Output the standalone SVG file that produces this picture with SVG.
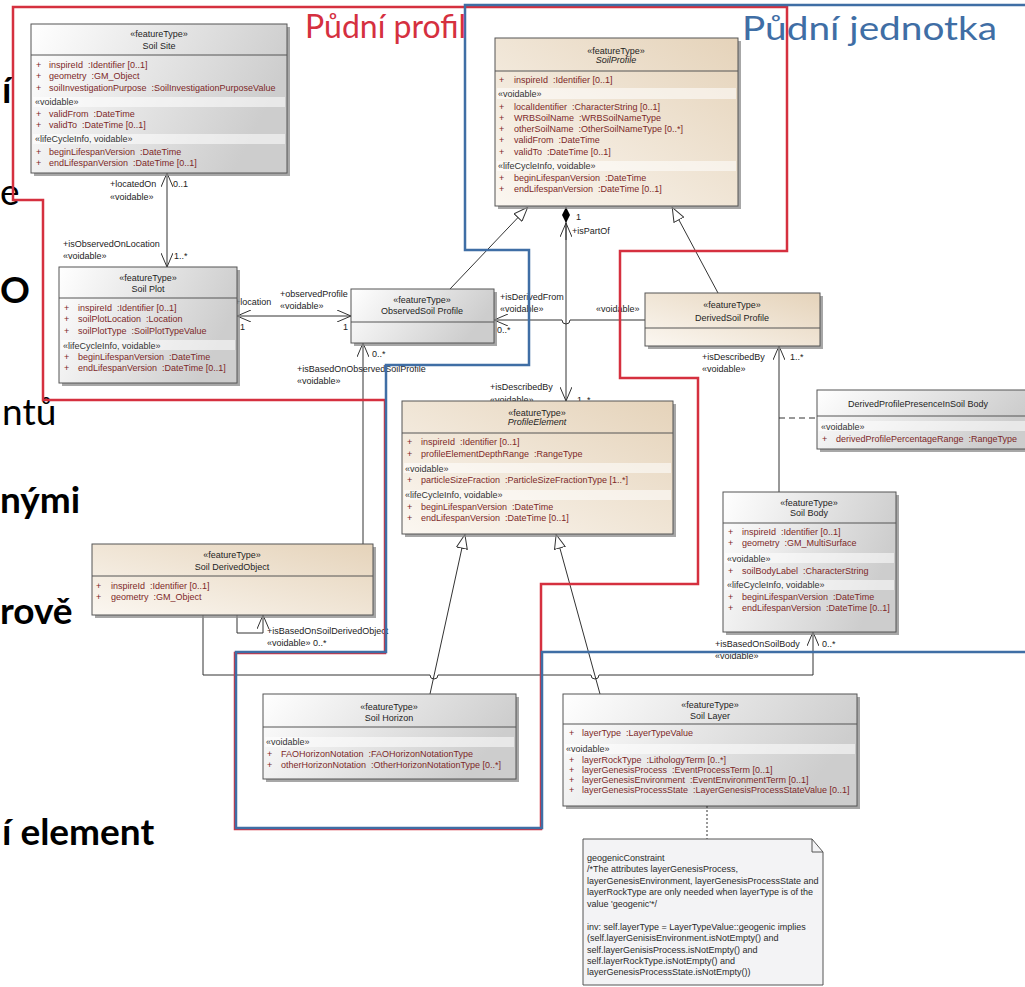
<svg xmlns="http://www.w3.org/2000/svg" width="1025" height="987" viewBox="0 0 1025 987">
<style>
text{font-family:"Liberation Sans",Arial,sans-serif;font-size:9px}
.h{fill:#1e1e1e;text-anchor:middle}
.i{font-style:italic}
.a{fill:#7d2828}
.s{fill:#333}
.l{fill:#222}
.box{stroke:#555;stroke-width:1}
.sh{fill:#8a8a8a;opacity:.75}
.sep{stroke:#555;stroke-width:1}
.band{fill:#fff;opacity:.55}
.c{stroke:#333;stroke-width:1;fill:none}
.big{font-family:Lato,"Open Sans",sans-serif;font-size:37px;font-weight:bold;fill:#000}
.reg{font-family:Lato,"Open Sans",sans-serif;font-size:37px;fill:#000}
.zone{font-family:Lato,"Open Sans",sans-serif;font-size:32px}
.note text{fill:#2a2a2a}
</style>
<defs>
<linearGradient id="gGray" x1="0" y1="0" x2="1" y2="0.3"><stop offset="0" stop-color="#ffffff"/><stop offset="1" stop-color="#cdcdcd"/></linearGradient>
<linearGradient id="gBeige" x1="0" y1="1" x2="1" y2="0"><stop offset="0" stop-color="#fbf7f1"/><stop offset="1" stop-color="#e5d3ba"/></linearGradient>
<marker id="open" viewBox="0 0 14 12" refX="14" refY="6" markerWidth="14" markerHeight="12" markerUnits="userSpaceOnUse" orient="auto-start-reverse"><path d="M0,0 L14,6 L0,12" fill="none" stroke="#333" stroke-width="1"/></marker>
<marker id="tri" viewBox="0 0 15 12" refX="15" refY="6" markerWidth="15" markerHeight="12" markerUnits="userSpaceOnUse" orient="auto"><path d="M0.5,0.5 L14.5,6 L0.5,11.5 Z" fill="#fff" stroke="#333" stroke-width="1"/></marker>
<marker id="dia" viewBox="0 0 16 8" refX="0" refY="4" markerWidth="16" markerHeight="8" markerUnits="userSpaceOnUse" orient="auto"><path d="M0,4 L8,0 L16,4 L8,8 Z" fill="#000"/></marker>
</defs>
<rect x="0" y="0" width="1025" height="987" fill="#fff"/>

<g id="slide-text">
<text class="big" x="2" y="103">í</text>
<text class="reg" x="0" y="205">e</text>
<text class="big" x="0" y="303">O</text>
<text class="reg" x="2" y="425">ntů</text>
<text class="big" x="0" y="513">nými</text>
<text class="big" x="0" y="624">rově</text>
<text class="big" x="2" y="845">í element</text>
</g>

<g id="connectors">
<path class="c" d="M167,173 L167,267" marker-start="url(#open)" marker-end="url(#open)"/>
<path class="c" d="M237,316 L351,316" marker-start="url(#open)" marker-end="url(#open)"/>
<path class="c" d="M363,544 L363,343" marker-end="url(#open)"/>
<path class="c" d="M450,289 L528,207" marker-end="url(#tri)"/>
<path class="c" d="M718,293 L672,207" marker-end="url(#tri)"/>
<path class="c" d="M566,207 L566,401" marker-start="url(#dia)" marker-end="url(#open)"/>
<path class="c" d="M566,240 L566,223" marker-end="url(#open)"/>
<path class="c" d="M645,320 L570,320 A4,4 0 0 1 562,320 L494,320" marker-end="url(#open)"/>
<path class="c" d="M779,492 L779,346" marker-end="url(#open)"/>
<path class="c" d="M779,418 L817,418" stroke-dasharray="6,4"/>
<path class="c" d="M430,694 L465,534" marker-end="url(#tri)"/>
<path class="c" d="M600,694 L556,534" marker-end="url(#tri)"/>
<path class="c" d="M237,615 L237,633 L263,633 L263,615" marker-end="url(#open)"/>
<path class="c" d="M203,615 L203,675 L430,675 A4,4 0 0 0 438,675 L591,675 A4,4 0 0 0 599,675 L813,675 L813,632" marker-end="url(#open)"/>
<text class="l" x="110" y="187">+locatedOn</text>
<text class="l" x="110" y="200">«voidable»</text>
<text class="l" x="173" y="187">0..1</text>
<text class="l" x="63" y="247">+isObservedOnLocation</text>
<text class="l" x="63" y="259">«voidable»</text>
<text class="l" x="174" y="259">1..*</text>
<text class="l" x="235" y="305">+location</text>
<text class="l" x="240" y="330">1</text>
<text class="l" x="280" y="297">+observedProfile</text>
<text class="l" x="280" y="309">«voidable»</text>
<text class="l" x="343" y="330">1</text>
<text class="l" x="372" y="357">0..*</text>
<text class="l" x="297" y="372">+isBasedOnObservedSoilProfile</text>
<text class="l" x="297" y="384">«voidable»</text>
<text class="l" x="500" y="300">+isDerivedFrom</text>
<text class="l" x="500" y="312">«voidable»</text>
<text class="l" x="497" y="333">0..*</text>
<text class="l" x="596" y="312">«voidable»</text>
<text class="l" x="576" y="220">1</text>
<text class="l" x="572" y="234">+isPartOf</text>
<text class="l" x="490" y="390">+isDescribedBy</text>
<text class="l" x="490" y="403">«voidable»</text>
<text class="l" x="577" y="403">1..*</text>
<text class="l" x="702" y="360">+isDescribedBy</text>
<text class="l" x="702" y="372">«voidable»</text>
<text class="l" x="790" y="360">1..*</text>
<text class="l" x="267" y="634">+isBasedOnSoilDerivedObject</text>
<text class="l" x="267" y="646">«voidable» 0..*</text>
<text class="l" x="715" y="647">+isBasedOnSoilBody</text>
<text class="l" x="822" y="647">0..*</text>
<text class="l" x="715" y="659">«voidable»</text>
</g>

<g id="SoilSite">
<rect class="sh" x="34" y="27" width="256" height="149"/>
<rect class="box" x="31" y="24" width="256" height="149" fill="url(#gGray)"/>
<line class="sep" x1="31" y1="55" x2="287" y2="55"/>
<rect class="band" x="33" y="97" width="252" height="10"/>
<rect class="band" x="33" y="134" width="252" height="10"/>
<text class="h" x="159" y="37">«featureType»</text>
<text class="h" x="159" y="49">Soil Site</text>
<text class="a" x="36" y="68">+</text><text class="a" x="49" y="68">inspireId &#160;:Identifier [0..1]</text>
<text class="a" x="36" y="79">+</text><text class="a" x="49" y="79">geometry &#160;:GM_Object</text>
<text class="a" x="36" y="91">+</text><text class="a" x="49" y="91">soilInvestigationPurpose &#160;:SoilInvestigationPurposeValue</text>
<text class="s" x="35" y="105">«voidable»</text>
<text class="a" x="36" y="117">+</text><text class="a" x="49" y="117">validFrom &#160;:DateTime</text>
<text class="a" x="36" y="128">+</text><text class="a" x="49" y="128">validTo &#160;:DateTime [0..1]</text>
<text class="s" x="35" y="142">«lifeCycleInfo, voidable»</text>
<text class="a" x="36" y="155">+</text><text class="a" x="49" y="155">beginLifespanVersion &#160;:DateTime</text>
<text class="a" x="36" y="166">+</text><text class="a" x="49" y="166">endLifespanVersion &#160;:DateTime [0..1]</text>
</g>

<g id="SoilProfile">
<rect class="sh" x="498" y="41" width="243" height="168"/>
<rect class="box" x="495" y="38" width="243" height="168" fill="url(#gBeige)"/>
<line class="sep" x1="495" y1="71" x2="738" y2="71"/>
<rect class="band" x="497" y="88" width="239" height="11"/>
<rect class="band" x="497" y="161" width="239" height="10"/>
<text class="h" x="616" y="54">«featureType»</text>
<text class="h i" x="616" y="63">SoilProfile</text>
<text class="a" x="499" y="83">+</text><text class="a" x="514" y="83">inspireId &#160;:Identifier [0..1]</text>
<text class="s" x="498" y="97">«voidable»</text>
<text class="a" x="499" y="110">+</text><text class="a" x="514" y="110">localIdentifier &#160;:CharacterString [0..1]</text>
<text class="a" x="499" y="121">+</text><text class="a" x="514" y="121">WRBSoilName &#160;:WRBSoilNameType</text>
<text class="a" x="499" y="132">+</text><text class="a" x="514" y="132">otherSoilName &#160;:OtherSoilNameType [0..*]</text>
<text class="a" x="499" y="143">+</text><text class="a" x="514" y="143">validFrom &#160;:DateTime</text>
<text class="a" x="499" y="155">+</text><text class="a" x="514" y="155">validTo &#160;:DateTime [0..1]</text>
<text class="s" x="498" y="169">«lifeCycleInfo, voidable»</text>
<text class="a" x="499" y="181">+</text><text class="a" x="514" y="181">beginLifespanVersion &#160;:DateTime</text>
<text class="a" x="499" y="192">+</text><text class="a" x="514" y="192">endLifespanVersion &#160;:DateTime [0..1]</text>
</g>

<g id="SoilPlot">
<rect class="sh" x="62" y="270" width="178" height="116"/>
<rect class="box" x="59" y="267" width="178" height="116" fill="url(#gGray)"/>
<line class="sep" x1="59" y1="298" x2="237" y2="298"/>
<rect class="band" x="61" y="340" width="174" height="10"/>
<text class="h" x="148" y="281">«featureType»</text>
<text class="h" x="148" y="292">Soil Plot</text>
<text class="a" x="64" y="311">+</text><text class="a" x="78" y="311">inspireId &#160;:Identifier [0..1]</text>
<text class="a" x="64" y="322">+</text><text class="a" x="78" y="322">soilPlotLocation &#160;:Location</text>
<text class="a" x="64" y="334">+</text><text class="a" x="78" y="334">soilPlotType &#160;:SoilPlotTypeValue</text>
<text class="s" x="63" y="349">«lifeCycleInfo, voidable»</text>
<text class="a" x="64" y="360">+</text><text class="a" x="78" y="360">beginLifespanVersion &#160;:DateTime</text>
<text class="a" x="64" y="371">+</text><text class="a" x="78" y="371">endLifespanVersion &#160;:DateTime [0..1]</text>
</g>

<g id="ObservedSoilProfile">
<rect class="sh" x="354" y="292" width="143" height="54"/>
<rect class="box" x="351" y="289" width="143" height="54" fill="url(#gGray)"/>
<line class="sep" x1="351" y1="322" x2="494" y2="322"/>
<text class="h" x="422" y="303">«featureType»</text>
<text class="h" x="422" y="314">ObservedSoil Profile</text>
</g>

<g id="DerivedSoilProfile">
<rect class="sh" x="648" y="296" width="175" height="53"/>
<rect class="box" x="645" y="293" width="175" height="53" fill="url(#gBeige)"/>
<line class="sep" x1="645" y1="328" x2="820" y2="328"/>
<text class="h" x="732" y="308">«featureType»</text>
<text class="h" x="732" y="321">DerivedSoil Profile</text>
</g>

<g id="DerivedProfilePresenceInSoilBody">
<rect class="sh" x="820" y="393" width="210" height="59"/>
<rect class="box" x="817" y="390" width="210" height="59" fill="url(#gGray)"/>
<line class="sep" x1="817" y1="416" x2="1027" y2="416"/>
<rect class="band" x="819" y="421" width="206" height="10"/>
<text class="h" x="918" y="407">DerivedProfilePresenceInSoil Body</text>
<text class="s" x="821" y="430">«voidable»</text>
<text class="a" x="822" y="442">+</text><text class="a" x="836" y="442">derivedProfilePercentageRange &#160;:RangeType</text>
</g>

<g id="ProfileElement">
<rect class="sh" x="405" y="404" width="271" height="133"/>
<rect class="box" x="402" y="401" width="271" height="133" fill="url(#gBeige)"/>
<line class="sep" x1="402" y1="433" x2="673" y2="433"/>
<rect class="band" x="404" y="463" width="267" height="10"/>
<rect class="band" x="404" y="490" width="267" height="10"/>
<text class="h" x="537" y="416">«featureType»</text>
<text class="h i" x="537" y="425">ProfileElement</text>
<text class="a" x="407" y="445">+</text><text class="a" x="421" y="445">inspireId &#160;:Identifier [0..1]</text>
<text class="a" x="407" y="457">+</text><text class="a" x="421" y="457">profileElementDepthRange &#160;:RangeType</text>
<text class="s" x="405" y="472">«voidable»</text>
<text class="a" x="407" y="483">+</text><text class="a" x="421" y="483">particleSizeFraction &#160;:ParticleSizeFractionType [1..*]</text>
<text class="s" x="405" y="498">«lifeCycleInfo, voidable»</text>
<text class="a" x="407" y="510">+</text><text class="a" x="421" y="510">beginLifespanVersion &#160;:DateTime</text>
<text class="a" x="407" y="521">+</text><text class="a" x="421" y="521">endLifespanVersion &#160;:DateTime [0..1]</text>
</g>

<g id="SoilDerivedObject">
<rect class="sh" x="95" y="547" width="281" height="71"/>
<rect class="box" x="92" y="544" width="281" height="71" fill="url(#gBeige)"/>
<line class="sep" x1="92" y1="576" x2="373" y2="576"/>
<text class="h" x="232" y="558">«featureType»</text>
<text class="h" x="232" y="570">Soil DerivedObject</text>
<text class="a" x="96" y="589">+</text><text class="a" x="111" y="589">inspireId &#160;:Identifier [0..1]</text>
<text class="a" x="96" y="600">+</text><text class="a" x="111" y="600">geometry &#160;:GM_Object</text>
</g>

<g id="SoilBody">
<rect class="sh" x="726" y="495" width="173" height="140"/>
<rect class="box" x="723" y="492" width="173" height="140" fill="url(#gGray)"/>
<line class="sep" x1="723" y1="523" x2="896" y2="523"/>
<rect class="band" x="725" y="553" width="169" height="10"/>
<rect class="band" x="725" y="580" width="169" height="10"/>
<text class="h" x="809" y="506">«featureType»</text>
<text class="h" x="809" y="516">Soil Body</text>
<text class="a" x="728" y="535">+</text><text class="a" x="742" y="535">inspireId &#160;:Identifier [0..1]</text>
<text class="a" x="728" y="546">+</text><text class="a" x="742" y="546">geometry &#160;:GM_MultiSurface</text>
<text class="s" x="727" y="562">«voidable»</text>
<text class="a" x="728" y="574">+</text><text class="a" x="742" y="574">soilBodyLabel &#160;:CharacterString</text>
<text class="s" x="727" y="588">«lifeCycleInfo, voidable»</text>
<text class="a" x="728" y="600">+</text><text class="a" x="742" y="600">beginLifespanVersion &#160;:DateTime</text>
<text class="a" x="728" y="611">+</text><text class="a" x="742" y="611">endLifespanVersion &#160;:DateTime [0..1]</text>
</g>

<g id="SoilHorizon">
<rect class="sh" x="266" y="697" width="253" height="85"/>
<rect class="box" x="263" y="694" width="253" height="85" fill="url(#gGray)"/>
<line class="sep" x1="263" y1="727" x2="516" y2="727"/>
<rect class="band" x="265" y="737" width="249" height="10"/>
<text class="h" x="389" y="710">«featureType»</text>
<text class="h" x="389" y="721">Soil Horizon</text>
<text class="s" x="266" y="745">«voidable»</text>
<text class="a" x="267" y="757">+</text><text class="a" x="281" y="757">FAOHorizonNotation &#160;:FAOHorizonNotationType</text>
<text class="a" x="267" y="768">+</text><text class="a" x="281" y="768">otherHorizonNotation &#160;:OtherHorizonNotationType [0..*]</text>
</g>

<g id="SoilLayer">
<rect class="sh" x="566" y="697" width="294" height="112"/>
<rect class="box" x="563" y="694" width="294" height="112" fill="url(#gGray)"/>
<line class="sep" x1="563" y1="724" x2="857" y2="724"/>
<rect class="band" x="565" y="744" width="290" height="10"/>
<text class="h" x="710" y="708">«featureType»</text>
<text class="h" x="710" y="719">Soil Layer</text>
<text class="a" x="569" y="736">+</text><text class="a" x="582" y="736">layerType &#160;:LayerTypeValue</text>
<text class="s" x="566" y="752">«voidable»</text>
<text class="a" x="569" y="763">+</text><text class="a" x="582" y="763">layerRockType &#160;:LithologyTerm [0..*]</text>
<text class="a" x="569" y="773">+</text><text class="a" x="582" y="773">layerGenesisProcess &#160;:EventProcessTerm [0..1]</text>
<text class="a" x="569" y="783">+</text><text class="a" x="582" y="783">layerGenesisEnvironment &#160;:EventEnvironmentTerm [0..1]</text>
<text class="a" x="569" y="793">+</text><text class="a" x="582" y="793">layerGenesisProcessState &#160;:LayerGenesisProcessStateValue [0..1]</text>
</g>

<g id="geogenicConstraint" class="note">
<path class="c" d="M707,806 L707,839" stroke-dasharray="2,2"/>
<path d="M583,839 L812,839 L823,852 L823,985 L583,985 Z" fill="#f3f3f5" stroke="#555" stroke-width="1"/>
<path d="M812,839 L812,852 L823,852" fill="none" stroke="#555" stroke-width="1"/>
<text x="587" y="861">geogenicConstraint</text>
<text x="587" y="872">/*The attributes layerGenesisProcess,</text>
<text x="587" y="884">layerGenesisEnvironment, layerGenesisProcessState and</text>
<text x="587" y="895">layerRockType are only needed when layerType is of the</text>
<text x="587" y="907">value 'geogenic'*/</text>
<text x="587" y="930">inv: self.layerType = LayerTypeValue::geogenic implies</text>
<text x="587" y="941">(self.layerGenisisEnvironment.isNotEmpty() and</text>
<text x="587" y="953">self.layerGenisisProcess.isNotEmpty() and</text>
<text x="587" y="964">self.layerRockType.isNotEmpty() and</text>
<text x="587" y="975">layerGenesisProcessState.isNotEmpty())</text>
</g>

<g id="zones" fill="none" stroke-width="2.5">
<path d="M787,7 L787,251 L620,251 L620,378 L698,378 L698,584 L541,584 L541,829 L235,829 L235,653 L385,653 L385,400 L43,400 L43,200 L13,200 L13,7 Z" stroke="#d5303f"/>
<path d="M1027,5 L465,5 L465,250 L529,250 L529,365 L386,365 L386,652 L236,652 L236,828 L542,828 L542,652 L1027,652" stroke="#3f6ea5"/>
<text class="zone" x="305" y="38" fill="#d5303f">Půdní profil</text>
<text class="zone" x="742" y="40" fill="#3f6ea5" textLength="255" lengthAdjust="spacingAndGlyphs">Půdní jednotka</text>
</g>
</svg>
